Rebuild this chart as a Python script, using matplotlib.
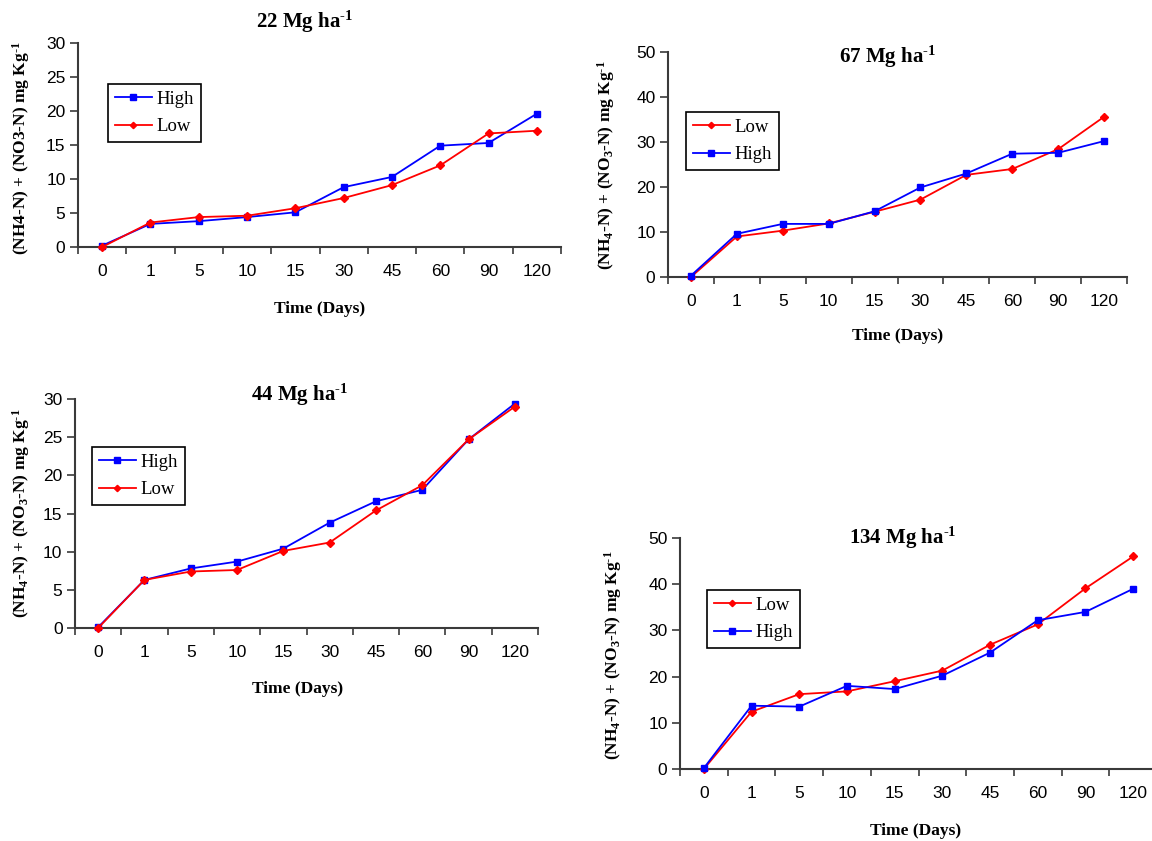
import matplotlib
matplotlib.use('Agg')
import matplotlib.pyplot as plt

W, H = 1152, 841

days = ['0', '1', '5', '10', '15', '30', '45', '60', '90', '120']

# (NH4-N) + (NO3-N), mg/kg
high_22 = [0.2, 3.4, 3.8, 4.4, 5.1, 8.8, 10.3, 14.9, 15.3, 19.6]
low_22 = [0.0, 3.6, 4.4, 4.6, 5.7, 7.2, 9.1, 12.0, 16.7, 17.1]

high_67 = [0.3, 9.6, 11.8, 11.8, 14.6, 19.9, 23.0, 27.4, 27.6, 30.2]
low_67 = [0.0, 9.0, 10.3, 11.9, 14.5, 17.2, 22.7, 24.0, 28.4, 35.6]

high_44 = [0.1, 6.3, 7.8, 8.7, 10.4, 13.8, 16.6, 18.1, 24.7, 29.4]
low_44 = [0.0, 6.3, 7.4, 7.6, 10.1, 11.2, 15.4, 18.7, 24.7, 29.0]

high_134 = [0.2, 13.7, 13.5, 18.0, 17.3, 20.2, 25.2, 32.2, 34.0, 39.0]
low_134 = [0.0, 12.4, 16.2, 16.8, 19.0, 21.3, 26.9, 31.3, 39.1, 46.0]

plt.rcParams['mathtext.fontset'] = 'custom'
plt.rcParams['mathtext.rm'] = 'Liberation Serif:bold'
plt.rcParams['mathtext.bf'] = 'Liberation Serif:bold'
plt.rcParams['mathtext.it'] = 'Liberation Serif:bold:italic'

SERIF = 'Liberation Serif'
SANS = 'Liberation Sans'
AXIS_COL = '#3a3a3a'
HY = '\u2010'  # plain hyphen for the superscripts, like the original

fig = plt.figure(figsize=(W / 100, H / 100), dpi=100)

ylab_plain = '(NH4-N) + (NO3-N) mg Kg$^{' + HY + '1}$'
ylab_sub = '(NH$_4$-N) + (NO$_3$-N) mg Kg$^{' + HY + '1}$'


def title_of(rate):
    return rate + ' Mg ha$^{' + HY + '1}$'


def panel(box, ymax, ystep, title, series, leg_xy, title_xy, ylab_xy, xlab_xy, ylab):
    l, t, r, b = box
    ax = fig.add_axes([l / W, 1 - b / H, (r - l) / W, (b - t) / H])
    x = list(range(len(days)))

    handles = []
    for name, vals in series:
        if name == 'High':
            ln, = ax.plot(x, vals, color='#0000ff', marker='s', markersize=5,
                          lw=1.3, clip_on=False, zorder=3)
        else:
            ln, = ax.plot(x, vals, color='#ff0000', marker='D', markersize=4.3,
                          lw=1.3, clip_on=False, zorder=3)
        handles.append(ln)

    ax.set_xlim(-0.5, len(days) - 0.5)
    ax.set_ylim(0, ymax)
    ax.set_yticks(range(0, ymax + 1, ystep))
    # category axis: tick marks between categories, labels at the centres
    ax.set_xticks([i - 0.5 for i in range(len(days) + 1)])
    ax.set_xticklabels([])
    ax.set_xticks(x, minor=True)
    ax.set_xticklabels(days, minor=True)
    ax.tick_params(axis='x', which='major', direction='out', length=5,
                   width=1.2, color=AXIS_COL)
    ax.tick_params(axis='x', which='minor', length=0, pad=12, labelsize=12.5)
    ax.tick_params(axis='y', direction='out', length=6, width=1.2,
                   color=AXIS_COL, pad=3, labelsize=12.5)
    for lab in ax.get_xticklabels(minor=True) + ax.get_yticklabels():
        lab.set_family(SANS)

    for s in ['top', 'right']:
        ax.spines[s].set_visible(False)
    for s in ['left', 'bottom']:
        ax.spines[s].set_color(AXIS_COL)
        ax.spines[s].set_linewidth(1.5)

    lx = (leg_xy[0] - l) / (r - l)
    ly = (b - leg_xy[1]) / (b - t)
    leg = ax.legend(handles, [n for n, _ in series], loc='upper left',
                    bbox_to_anchor=(lx, ly), borderaxespad=0,
                    prop={'family': SERIF, 'size': 13.5}, fancybox=False,
                    edgecolor='black', framealpha=1, handlelength=2.0,
                    handletextpad=0.25, borderpad=0.35, labelspacing=0.55,
                    markerscale=0.75)
    leg.get_frame().set_linewidth(1.2)

    fig.text(title_xy[0] / W, 1 - title_xy[1] / H, title, ha='center',
             va='center', fontsize=15, fontweight='bold', family=SERIF)
    fig.text(ylab_xy[0] / W, 1 - ylab_xy[1] / H, ylab, ha='center',
             va='center', rotation=90, fontsize=12.5, fontweight='bold',
             family=SERIF)
    fig.text(xlab_xy[0] / W, 1 - xlab_xy[1] / H, 'Time (Days)', ha='center',
             va='center', fontsize=12.5, fontweight='bold', family=SERIF)
    return ax


panel((78, 43, 561, 247), 30, 5, title_of('22'),
      [('High', high_22), ('Low', low_22)],
      (108, 84), (305, 22), (21, 148), (320, 309), ylab_plain)

panel((668, 52, 1127, 277), 50, 10, title_of('67'),
      [('Low', low_67), ('High', high_67)],
      (686, 112), (888, 57), (606, 165), (898, 336), ylab_sub)

panel((75, 399, 538, 628), 30, 5, title_of('44'),
      [('High', high_44), ('Low', low_44)],
      (92, 447), (300, 395), (21, 513), (298, 689), ylab_sub)

panel((680, 538, 1157, 769), 50, 10, title_of('134'),
      [('Low', low_134), ('High', high_134)],
      (707, 590), (903, 538), (613, 655), (916, 831), ylab_sub)

fig.savefig('out.png', dpi=100)
